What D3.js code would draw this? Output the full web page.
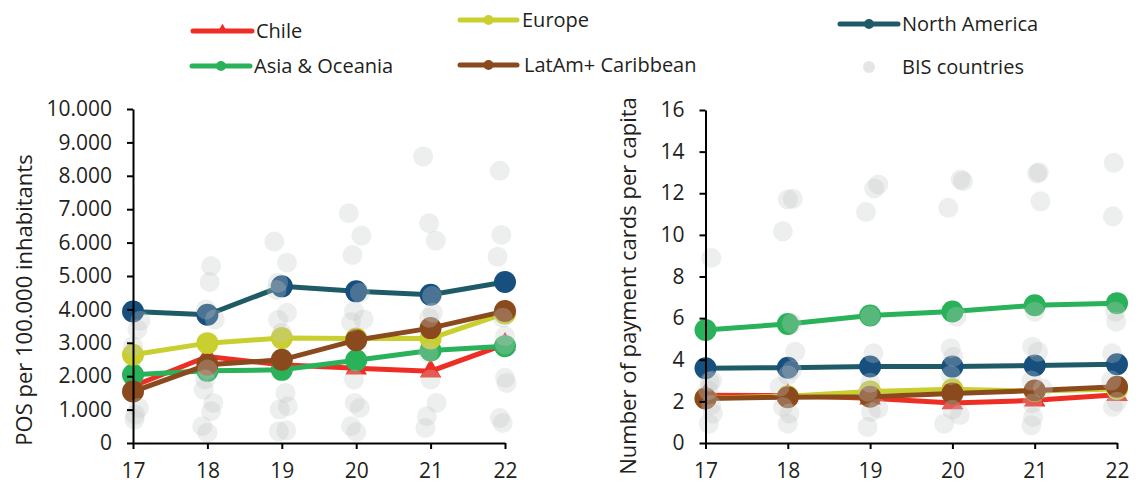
<!DOCTYPE html>
<html>
<head>
<meta charset="utf-8">
<script src="https://cdn.jsdelivr.net/npm/d3@7"></script>
<style>
  body { margin: 0; background: #fff; }
  text { font-family: "Open Sans", sans-serif; fill: #231f20; }
</style>
</head>
<body>
<div id="chart-area"></div>
<script>
// years on the x axis
var years = [17, 18, 19, 20, 21, 22];

// POS per 100.000 inhabitants
var posChile    = [1700, 2590, 2340, 2240, 2150, 2950];
var posAsia     = [2040, 2160, 2190, 2480, 2770, 2900];
var posEurope   = [2640, 2990, 3140, 3130, 3130, 3880];
var posLatam    = [1540, 2340, 2490, 3080, 3440, 3950];
var posNorthAm  = [3940, 3840, 4690, 4540, 4440, 4820];

// payment cards per capita
var cardsChile   = [2.30, 2.28, 2.15, 1.92, 2.05, 2.32];
var cardsAsia    = [5.43, 5.72, 6.13, 6.32, 6.62, 6.72];
var cardsEurope  = [2.15, 2.25, 2.48, 2.58, 2.50, 2.60];
var cardsLatam   = [2.14, 2.20, 2.22, 2.38, 2.52, 2.70];
var cardsNorthAm = [3.59, 3.62, 3.68, 3.67, 3.72, 3.78];

// BIS countries [year (slightly jittered), value]
var posBis = [
  [17.1,3660],[17.06,3400],[17.0,2900],[17.08,1050],[17.03,850],[17.02,700],
  [18.05,5300],[18.03,4820],[17.98,4000],[18.1,3700],[17.97,1900],[17.95,1600],[18.08,1200],[18.05,950],[17.93,500],[18.0,310],[18.0,2200],
  [18.9,6030],[19.07,5400],[18.95,4800],[18.93,4580],[19.07,3900],[18.95,3690],[19.0,3300],[19.05,1500],[19.08,1100],[18.97,1000],[18.96,350],[19.06,380],
  [19.9,6880],[20.07,6210],[19.95,5630],[20.05,4500],[19.97,3950],[20.1,3700],[19.93,3620],[19.97,1900],[19.98,1200],[20.05,1050],[19.93,500],[20.0,330],
  [20.9,8580],[20.98,6580],[21.07,6060],[21.02,4400],[21.03,3900],[20.98,3750],[20.97,2700],[21.0,1900],[21.08,1200],[20.95,800],[20.93,450],
  [21.93,8150],[21.95,6230],[21.9,5580],[21.97,3750],[22.0,3200],[22.0,1950],[22.02,1800],[21.93,750],[21.97,600],[22.0,2950]
];
var cardsBis = [
  [17.07,8.89],[17.05,2.94],[17.03,2.54],[17.07,1.82],[17.04,0.93],[17.09,1.42],[17.08,3.0],
  [17.94,10.17],[18.0,11.7],[18.06,11.73],[18.05,5.75],[18.09,4.39],[18.05,3.5],[17.9,2.7],[17.94,1.73],[18.02,1.42],[18.0,0.93],[18.0,3.26],
  [18.95,11.1],[19.05,12.23],[19.1,12.42],[19.04,4.31],[18.97,2.46],[19.01,1.49],[19.1,1.66],[18.97,0.77],[19.0,6.1],[19.0,2.9],
  [19.95,11.3],[20.1,12.66],[20.13,12.58],[19.98,4.55],[20.01,4.14],[19.98,3.26],[20.09,1.34],[19.9,0.93],[20.05,6.07],[20.0,1.6],
  [21.05,13.01],[21.03,12.95],[21.07,11.61],[20.97,4.63],[21.04,4.39],[20.96,3.0],[21.1,2.62],[20.97,1.9],[20.98,1.25],[20.96,0.85],[21.0,6.31],
  [21.96,13.46],[21.95,10.89],[21.94,4.31],[21.99,5.83],[21.98,6.31],[21.93,3.0],[21.95,1.73],[22.0,1.98]
];

var seriesNames = ["Chile", "Asia & Oceania", "Europe", "LatAm+ Caribbean", "North America"];
var lineColors   = ["#ee2e24", "#2ab25b", "#c9cf2f", "#8b4a1e", "#1f5a67"];
var markColors   = ["#ee2e24", "#2ab25b", "#c9cf2f", "#8b4a1e", "#17507f"];

var svg = d3.select("#chart-area").append("svg")
    .attr("width", 1139)
    .attr("height", 483);

var thousands = d3.formatLocale({decimal: ",", thousands: ".", grouping: [3], currency: ["", ""]}).format(",");

function drawPanel(opts) {
  var x = d3.scaleLinear().domain([17, 22]).range(opts.xr);
  var y = d3.scaleLinear().domain([0, opts.ymax]).range([443, opts.ytop]);
  var g = svg.append("g");

  opts.series.forEach(function(vals, i) {
    var pts = years.map(function(yr, j) { return [yr, vals[j]]; });
    g.append("path")
      .datum(pts)
      .attr("fill", "none")
      .attr("stroke", lineColors[i])
      .attr("stroke-width", 5)
      .attr("d", d3.line().x(function(d){ return x(d[0]); }).y(function(d){ return y(d[1]); }));
    if (i == 0) {
      g.selectAll(".tri" + opts.id)
        .data(pts).enter().append("path")
        .attr("transform", function(d){ return "translate(" + x(d[0]) + "," + y(d[1]) + ")"; })
        .attr("d", d3.symbol().type(d3.symbolTriangle).size(200))
        .attr("fill", markColors[i]);
    } else {
      g.selectAll(".c" + i + opts.id)
        .data(pts).enter().append("circle")
        .attr("cx", function(d){ return x(d[0]); })
        .attr("cy", function(d){ return y(d[1]); })
        .attr("r", 11)
        .attr("fill", markColors[i]);
    }
  });

  g.selectAll(".bis" + opts.id)
    .data(opts.bis).enter().append("circle")
    .attr("cx", function(d){ return x(d[0]); })
    .attr("cy", function(d){ return y(d[1]); })
    .attr("r", 10)
    .attr("fill", "#c4c8c8")
    .attr("fill-opacity", 0.3);

  var ya = g.append("g")
    .attr("transform", "translate(" + opts.xr[0] + ",0)")
    .call(d3.axisLeft(y).tickValues(opts.yticks).tickFormat(opts.fmt).tickSize(6).tickSizeOuter(0).tickPadding(15));
  var xa = g.append("g")
    .attr("transform", "translate(0,443)")
    .call(d3.axisBottom(x).tickValues(years).tickFormat(d3.format("d")).tickSize(6).tickSizeOuter(0).tickPadding(14));
  [ya, xa].forEach(function(a) {
    a.selectAll("path, line").attr("stroke", "#000").attr("stroke-width", 2);
    a.selectAll("text").style("font-size", "21px").attr("fill", "#231f20");
  });

  g.append("text")
    .attr("transform", "translate(" + opts.tx + "," + opts.ty + ") rotate(-90)")
    .attr("text-anchor", "middle")
    .style("font-size", "22px")
    .text(opts.title);
}

drawPanel({
  id: "a", xr: [133, 505], ymax: 10000, ytop: 109,
  yticks: d3.range(0, 10001, 1000), fmt: thousands,
  series: [posChile, posAsia, posEurope, posLatam, posNorthAm],
  bis: posBis, title: "POS per 100.000 inhabitants", tx: 32, ty: 300
});

drawPanel({
  id: "b", xr: [705.5, 1117], ymax: 16, ytop: 110,
  yticks: d3.range(0, 17, 2), fmt: d3.format("d"),
  series: [cardsChile, cardsAsia, cardsEurope, cardsLatam, cardsNorthAm],
  bis: cardsBis, title: "Number of payment cards per capita", tx: 636, ty: 286
});

// legend
var legendItems = [
  {i: 0, x1: 193, x2: 252, y: 31, tx: 256},
  {i: 1, x1: 192, x2: 250, y: 66, tx: 254},
  {i: 2, x1: 460, x2: 517, y: 20, tx: 522},
  {i: 3, x1: 460, x2: 517, y: 65, tx: 524},
  {i: 4, x1: 840, x2: 898, y: 24, tx: 902}
];
var lg = svg.append("g");
legendItems.forEach(function(d) {
  lg.append("line")
    .attr("x1", d.x1).attr("x2", d.x2).attr("y1", d.y).attr("y2", d.y)
    .attr("stroke", lineColors[d.i]).attr("stroke-width", 5).attr("stroke-linecap", "round");
  var mx = (d.x1 + d.x2) / 2;
  if (d.i == 0) {
    lg.append("path")
      .attr("transform", "translate(" + mx + "," + (d.y - 1) + ")")
      .attr("d", d3.symbol().type(d3.symbolTriangle).size(50))
      .attr("fill", lineColors[d.i]);
  } else {
    lg.append("circle").attr("cx", mx).attr("cy", d.y).attr("r", 5).attr("fill", lineColors[d.i]);
  }
  lg.append("text").attr("x", d.tx).attr("y", d.y).attr("dy", "0.35em")
    .style("font-size", "20px").text(seriesNames[d.i]);
});
lg.append("circle").attr("cx", 869).attr("cy", 67).attr("r", 6).attr("fill", "#e4e6e6");
lg.append("text").attr("x", 902).attr("y", 67).attr("dy", "0.35em")
  .style("font-size", "20px").text("BIS countries");
</script>
</body>
</html>
